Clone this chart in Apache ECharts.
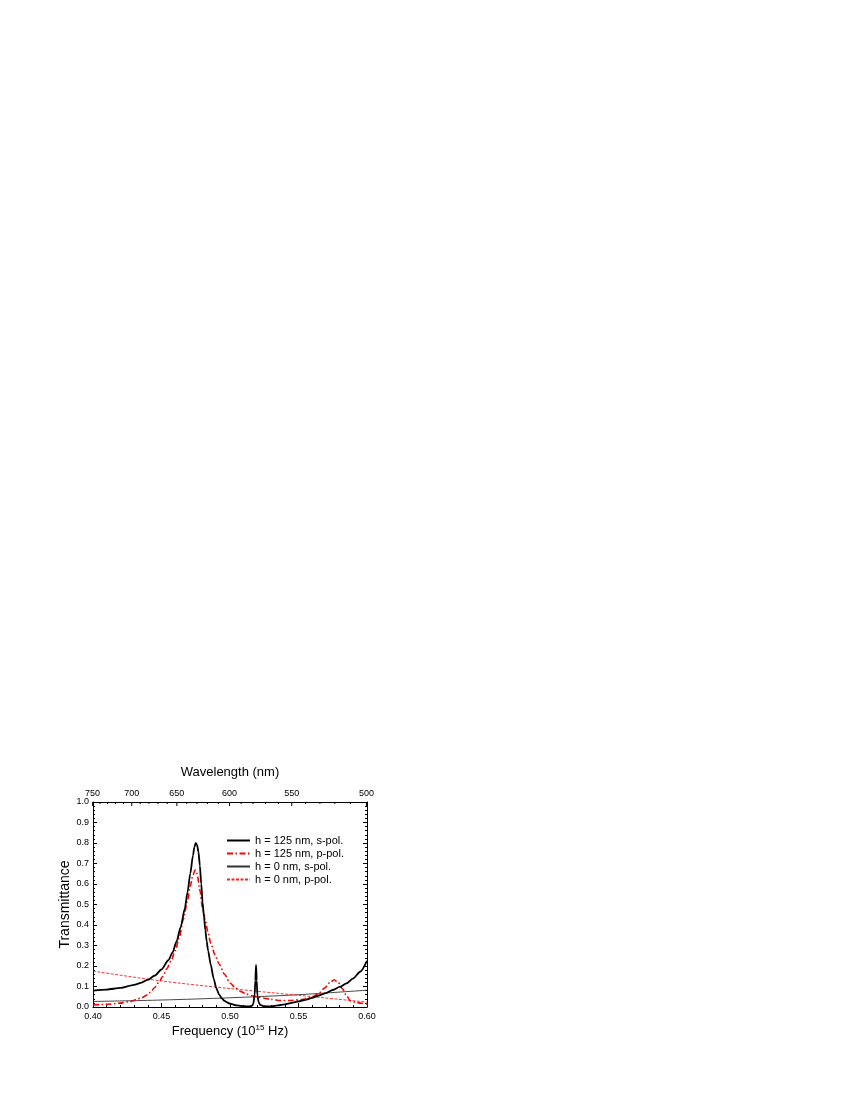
<!DOCTYPE html>
<html>
<head>
<meta charset="utf-8">
<script src="https://cdn.jsdelivr.net/npm/echarts@6/dist/echarts.min.js"></script>
<style>
  html, body { margin: 0; padding: 0; background: #fff; }
  #chart { width: 850px; height: 1100px; }
</style>
</head>
<body>
<div id="chart"></div>
<script>
// ---------------- data ----------------
const seriesNames = ['h = 125 nm, s-pol.', 'h = 125 nm, p-pol.', 'h = 0 nm, s-pol.', 'h = 0 nm, p-pol.'];

const freqS125 = [0.400,0.410,0.420,0.430,0.435,0.440,0.445,0.450,0.455,0.458,0.461,0.464,0.467,0.469,0.471,0.473,0.474,0.475,0.476,0.477,0.478,0.479,0.480,0.481,0.482,0.483,0.484,0.486,0.488,0.490,0.492,0.494,0.496,0.498,0.500,0.505,0.510,0.514,0.516,0.517,0.518,0.5185,0.519,0.5195,0.520,0.521,0.522,0.525,0.530,0.535,0.540,0.545,0.550,0.555,0.560,0.565,0.570,0.575,0.580,0.585,0.590,0.595,0.600];
const transS125 = [0.080,0.085,0.093,0.108,0.118,0.133,0.153,0.183,0.228,0.265,0.320,0.390,0.480,0.560,0.650,0.740,0.780,0.800,0.790,0.755,0.690,0.600,0.510,0.440,0.375,0.320,0.275,0.205,0.140,0.092,0.062,0.042,0.030,0.022,0.016,0.008,0.004,0.003,0.006,0.015,0.060,0.130,0.205,0.130,0.055,0.022,0.010,0.004,0.003,0.008,0.013,0.020,0.027,0.035,0.045,0.056,0.068,0.083,0.098,0.115,0.140,0.172,0.225];

const freqP125 = [0.400,0.410,0.420,0.427,0.435,0.440,0.442,0.445,0.448,0.451,0.454,0.457,0.460,0.463,0.466,0.469,0.471,0.473,0.4745,0.476,0.478,0.480,0.482,0.484,0.486,0.489,0.492,0.496,0.500,0.504,0.508,0.512,0.516,0.520,0.525,0.530,0.537,0.545,0.552,0.557,0.561,0.565,0.569,0.573,0.576,0.579,0.582,0.585,0.588,0.592,0.596,0.600];
const transP125 = [0.010,0.013,0.019,0.027,0.043,0.060,0.072,0.095,0.120,0.150,0.188,0.225,0.275,0.340,0.430,0.520,0.590,0.645,0.668,0.650,0.570,0.480,0.420,0.360,0.310,0.255,0.210,0.160,0.117,0.093,0.075,0.063,0.055,0.049,0.043,0.037,0.032,0.032,0.036,0.043,0.052,0.068,0.092,0.120,0.133,0.120,0.090,0.055,0.030,0.022,0.018,0.015];

const freqS0 = [0.40,0.45,0.50,0.55,0.60];
const transS0 = [0.027,0.034,0.045,0.060,0.082];

const freqP0 = [0.40,0.45,0.50,0.55,0.60];
const transP0 = [0.175,0.127,0.090,0.057,0.024];

// top axis: wavelength tick labels (nm)
const wavelengthLabels = [750,700,650,600,550,500];
const wavelengthMinorStep = 10;
const C_NM_PHZ = 299.792458; // f [10^15 Hz] = c / lambda[nm]

// ---------------- build ----------------
const pairs = (xs, ys) => xs.map((x, i) => [x, ys[i]]);
const wlTicks = [];
for (let w = 500; w <= 750; w += wavelengthMinorStep) wlTicks.push([w, 1]);

const FONT = "'Liberation Sans', Arial, sans-serif";

const chart = echarts.init(document.getElementById('chart'), null, { renderer: 'canvas' });

const commonTick = { inside: true, length: 4, lineStyle: { color: '#000', width: 1 } };
const commonMinor = { show: true, splitNumber: 5, length: 2, lineStyle: { color: '#000', width: 1 } };

const option = {
  animation: false,
  backgroundColor: '#fff',
  textStyle: { fontFamily: FONT },
  grid: { left: 93, top: 802, width: 274, height: 205, containLabel: false },
  legend: {
    orient: 'vertical',
    left: 221,
    top: 830,
    itemWidth: 23,
    itemHeight: 10,
    itemGap: 2,
    itemStyle: { opacity: 0 },
    textStyle: { fontSize: 11, fontFamily: FONT, color: '#000' },
    data: seriesNames
  },
  xAxis: [
    {
      type: 'value', position: 'bottom', min: 0.4, max: 0.6, interval: 0.05,
      axisLine: { show: true, onZero: false, lineStyle: { color: '#000', width: 1 } },
      axisTick: commonTick,
      minorTick: commonMinor,
      splitLine: { show: false },
      axisLabel: { fontSize: 9, color: '#000', fontFamily: FONT, margin: 5, formatter: v => v.toFixed(2) },
      name: 'Frequency (10{sup|15} Hz)',
      nameLocation: 'middle',
      nameGap: 17,
      nameTextStyle: {
        fontSize: 13, color: '#000', fontFamily: FONT, verticalAlign: 'top',
        rich: { sup: { fontSize: 8, verticalAlign: 'top', padding: [0, 0, 6, 0], color: '#000', fontFamily: FONT } }
      }
    },
    {
      type: 'value', position: 'top', min: 0.4, max: 0.6,
      axisLine: { show: true, onZero: false, lineStyle: { color: '#000', width: 1 } },
      axisTick: { show: false },
      axisLabel: { show: false },
      splitLine: { show: false },
      name: 'Wavelength (nm)',
      nameLocation: 'middle',
      nameGap: 23,
      nameTextStyle: { fontSize: 13, color: '#000', fontFamily: FONT }
    }
  ],
  yAxis: [
    {
      type: 'value', position: 'left', min: 0, max: 1, interval: 0.1,
      axisLine: { show: true, onZero: false, lineStyle: { color: '#000', width: 1 } },
      axisTick: commonTick,
      minorTick: commonMinor,
      splitLine: { show: false },
      axisLabel: { fontSize: 9, color: '#000', fontFamily: FONT, margin: 4, formatter: v => v.toFixed(1) },
      name: 'Transmittance',
      nameLocation: 'middle',
      nameGap: 19,
      nameTextStyle: { fontSize: 14, color: '#000', fontFamily: FONT }
    },
    {
      type: 'value', position: 'right', min: 0, max: 1, interval: 0.1,
      axisLine: { show: true, onZero: false, lineStyle: { color: '#000', width: 1 } },
      axisTick: commonTick,
      minorTick: commonMinor,
      splitLine: { show: false },
      axisLabel: { show: false }
    }
  ],
  series: [
    {
      name: seriesNames[0], type: 'line', xAxisIndex: 0, yAxisIndex: 0,
      data: pairs(freqS125, transS125), showSymbol: false, symbol: 'none',
      smooth: 0.25, smoothMonotone: 'x',
      lineStyle: { color: '#000', width: 1.8 }, itemStyle: { color: '#000' }, z: 5
    },
    {
      name: seriesNames[1], type: 'line', xAxisIndex: 0, yAxisIndex: 0,
      data: pairs(freqP125, transP125), showSymbol: false, symbol: 'none',
      smooth: 0.25, smoothMonotone: 'x',
      lineStyle: { color: '#ff0000', width: 1.6, type: [6, 2.5, 1.5, 2.5] }, itemStyle: { color: '#ff0000' }, z: 4
    },
    {
      name: seriesNames[2], type: 'line', xAxisIndex: 0, yAxisIndex: 0,
      data: pairs(freqS0, transS0), showSymbol: false, symbol: 'none',
      smooth: 0.3,
      lineStyle: { color: '#333', width: 0.9 }, itemStyle: { color: '#666' }, z: 3
    },
    {
      name: seriesNames[3], type: 'line', xAxisIndex: 0, yAxisIndex: 0,
      data: pairs(freqP0, transP0), showSymbol: false, symbol: 'none',
      smooth: 0.3,
      lineStyle: { color: '#ff2020', width: 0.9, type: [3, 1.5] }, itemStyle: { color: '#ff4040' }, z: 3
    },
    {
      name: 'wavelengthAxis', type: 'custom', xAxisIndex: 1, yAxisIndex: 0,
      clip: false, silent: true, z: 10,
      data: wlTicks,
      renderItem: function (params, api) {
        const wl = api.value(0);
        const f = C_NM_PHZ / wl;
        const p = api.coord([f, 1]);
        const major = wavelengthLabels.indexOf(wl) >= 0;
        const children = [{
          type: 'line',
          shape: { x1: p[0], y1: p[1], x2: p[0], y2: p[1] + (major ? 4 : 2) },
          style: { stroke: '#000', lineWidth: 1 }
        }];
        if (major) {
          children.push({
            type: 'text', x: p[0], y: p[1] - 4,
            style: { text: String(wl), fill: '#000', font: "9px 'Liberation Sans', Arial, sans-serif", align: 'center', verticalAlign: 'bottom' }
          });
        }
        return { type: 'group', children: children };
      }
    }
  ]
};
chart.setOption(option);
</script>
</body>
</html>
